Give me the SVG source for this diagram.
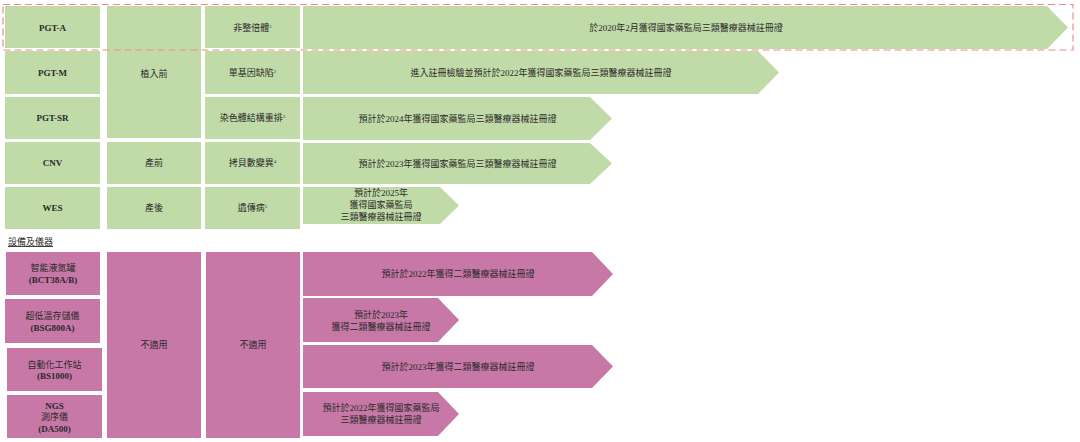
<svg xmlns="http://www.w3.org/2000/svg" width="1080" height="442" viewBox="0 0 1080 442">
<style>
.g{fill:#c1dba8}
.p{fill:#c778a6}
text{font-family:"Liberation Serif","Noto Sans CJK TC",serif;font-size:9px;fill:#2a2a2a;text-anchor:middle}
.en{font-weight:bold}
.sup{font-size:5px}
.hl{fill:none;stroke:#f08a8a;stroke-width:1.2;stroke-dasharray:7 4}
</style>
<rect width="1080" height="442" fill="#fff"/>
<g id="pgt-a"><rect class="g" x="5" y="6" width="95" height="42"/><text class="en" x="52.5" y="30.5">PGT-A</text></g>
<g id="pgt-m"><rect class="g" x="5" y="51" width="95" height="43"/><text class="en" x="52.5" y="75.5">PGT-M</text></g>
<g id="pgt-sr"><rect class="g" x="5" y="97" width="95" height="42"/><text class="en" x="52.5" y="121">PGT-SR</text></g>
<g id="cnv"><rect class="g" x="5" y="142" width="95" height="42"/><text class="en" x="52.5" y="166">CNV</text></g>
<g id="wes"><rect class="g" x="5" y="187" width="95" height="42"/><text class="en" x="52.5" y="211">WES</text></g>
<g id="pre-implant"><rect class="g" x="107" y="6" width="94" height="132"/><text x="154" y="77">植入前</text></g>
<g id="prenatal"><rect class="g" x="107" y="142" width="94" height="42"/><text x="154" y="166">產前</text></g>
<g id="postnatal"><rect class="g" x="107" y="187" width="94" height="42"/><text x="154" y="211">產後</text></g>
<g id="aneuploidy"><rect class="g" x="205" y="6" width="95" height="42"/><text x="252.5" y="30.5">非整倍體<tspan class="sup" dy="-3">1</tspan></text></g>
<g id="monogenic"><rect class="g" x="205" y="51" width="95" height="43"/><text x="252.5" y="75.5">單基因缺陷<tspan class="sup" dy="-3">2</tspan></text></g>
<g id="rearrange"><rect class="g" x="205" y="97" width="95" height="42"/><text x="252.5" y="121">染色體結構重排<tspan class="sup" dy="-3">3</tspan></text></g>
<g id="copynum"><rect class="g" x="205" y="142" width="95" height="42"/><text x="252.5" y="166">拷貝數變異<tspan class="sup" dy="-3">4</tspan></text></g>
<g id="genetic"><rect class="g" x="205" y="187" width="95" height="42"/><text x="252.5" y="211">遺傳病<tspan class="sup" dy="-3">5</tspan></text></g>
<g id="arrows">
<g id="a1"><polygon class="g" points="303,6 1047,6 1068,27.5 1047,49 303,49"/><text x="686" y="30.5">於2020年2月獲得國家藥監局三類醫療器械註冊證</text></g>
<g id="a2"><polygon class="g" points="303,51 758,51 779,72.5 758,94 303,94"/><text x="541" y="75.5">進入註冊檢驗並預計於2022年獲得國家藥監局三類醫療器械註冊證</text></g>
<g id="a3"><polygon class="g" points="303,97 590,97 612,118.5 590,140 303,140"/><text x="457.5" y="121.5">預計於2024年獲得國家藥監局三類醫療器械註冊證</text></g>
<g id="a4"><polygon class="g" points="303,143 590,143 612,163.5 590,184 303,184"/><text x="457.5" y="166.5">預計於2023年獲得國家藥監局三類醫療器械註冊證</text></g>
<g id="a5"><polygon class="g" points="303,187 440,187 459,205.5 440,224 303,224"/><text x="381" y="196">預計於2025年</text><text x="381" y="208">獲得國家藥監局</text><text x="381" y="219.5">三類醫療器械註冊證</text></g>
<g id="b1"><polygon class="p" points="303,252 592,252 613,274 592,296 303,296"/><text x="458" y="277">預計於2022年獲得二類醫療器械註冊證</text></g>
<g id="b2"><polygon class="p" points="303,298 438,298 459,320 438,342 303,342"/><text x="381" y="318">預計於2023年</text><text x="381" y="329.5">獲得二類醫療器械註冊證</text></g>
<g id="b3"><polygon class="p" points="303,345 592,345 613,366.5 592,388 303,388"/><text x="458" y="369.5">預計於2023年獲得二類醫療器械註冊證</text></g>
<g id="b4"><polygon class="p" points="303,392 438,392 459,414 438,436 303,436"/><text x="381" y="411">預計於2022年獲得國家藥監局</text><text x="381" y="422.5">三類醫療器械註冊證</text></g>
</g>
<g id="equip-title"><text x="8" y="245" style="text-anchor:start;text-decoration:underline">設備及儀器</text></g>
<g id="bct"><rect class="p" x="6" y="252" width="94" height="43"/><text x="53" y="271">智能液氮罐</text><text class="en" x="53" y="282.5">(BCT38A/B)</text></g>
<g id="bsg"><rect class="p" x="5" y="299" width="95" height="44"/><text x="52.5" y="319">超低溫存儲儀</text><text class="en" x="52.5" y="330.5">(BSG800A)</text></g>
<g id="bs"><rect class="p" x="7" y="348" width="95" height="43"/><text x="54.5" y="367.5">自動化工作站</text><text class="en" x="54.5" y="379">(BS1000)</text></g>
<g id="da"><rect class="p" x="7" y="395" width="95" height="43"/><text class="en" x="54.5" y="409">NGS</text><text x="54.5" y="420">測序儀</text><text class="en" x="54.5" y="431.5">(DA500)</text></g>
<g id="na1"><rect class="p" x="107" y="252" width="94" height="186"/><text x="154" y="348">不適用</text></g>
<g id="na2"><rect class="p" x="206" y="252" width="94" height="186"/><text x="253" y="348">不適用</text></g>
<g id="highlight"><rect class="hl" x="3" y="4.5" width="1070" height="45.5"/></g>
</svg>
